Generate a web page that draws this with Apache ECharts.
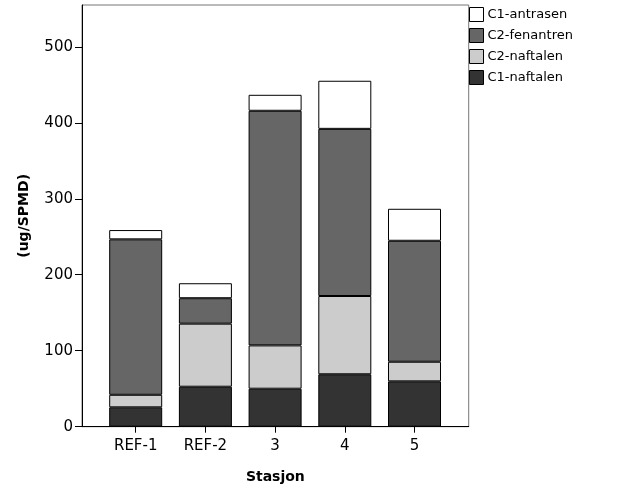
<!DOCTYPE html>
<html>
<head>
<meta charset="utf-8">
<script src="https://cdn.jsdelivr.net/npm/echarts@6/dist/echarts.min.js"></script>
<style>html,body{margin:0;padding:0;background:#fff;}#c{width:626px;height:501px;}</style>
</head>
<body>
<div id="c"></div>
<script>
const categories = ['REF-1', 'REF-2', '3', '4', '5'];
const c1Naftalen = [25.5, 52.6, 50, 69, 59.7];
const c2Naftalen = [16.5, 83, 57, 103, 25.8];
const c2Fenantren = [204.6, 33.5, 308.8, 220, 159.2];
const c1Antrasen = [12.2, 19.7, 21, 63.3, 42.1];
const yTicks = [0, 100, 200, 300, 400, 500];
const legendOrder = ['C1-antrasen', 'C2-fenantren', 'C2-naftalen', 'C1-naftalen'];

const font = 'DejaVu Sans';
const yMax = 555;
const chart = echarts.init(document.getElementById('c'), null, {renderer: 'canvas'});

function bar(name, data, color) {
  return {
    name: name, type: 'bar', stack: 'total', data: data,
    xAxisIndex: 0, yAxisIndex: 0,
    barWidth: 53,
    itemStyle: {color: color, borderColor: '#000', borderWidth: 1},
    emphasis: {disabled: true}
  };
}

chart.setOption({
  animation: false,
  backgroundColor: '#fff',
  grid: [
    {left: 100.85, width: 348.5, top: 5, bottom: 74.3},
    {left: 82, width: 386.7, top: 5, bottom: 74.3, show: true, borderColor: '#777', borderWidth: 1, backgroundColor: 'transparent'}
  ],
  xAxis: [
    {type: 'category', gridIndex: 0, data: categories, boundaryGap: true,
     axisLine: {show: false},
     axisTick: {show: true, alignWithLabel: true, length: 6, lineStyle: {color: '#000'}},
     axisLabel: {fontFamily: font, fontSize: 15, color: '#000', margin: 12}},
    {type: 'value', gridIndex: 1, min: 0, max: 1,
     axisLine: {show: true, onZero: false, lineStyle: {color: '#000', width: 1}},
     axisTick: {show: false}, axisLabel: {show: false}, splitLine: {show: false},
     name: 'Stasjon', nameLocation: 'middle', nameGap: 44,
     nameTextStyle: {fontFamily: font, fontSize: 14, fontWeight: 'bold', color: '#000'}}
  ],
  yAxis: [
    {type: 'value', gridIndex: 0, min: 0, max: yMax, show: false, splitLine: {show: false}},
    {type: 'value', gridIndex: 1, min: 0, max: yMax,
     axisLine: {show: true, lineStyle: {color: '#000', width: 1}},
     axisTick: {show: true, length: 7, lineStyle: {color: '#000'}, customValues: yTicks},
     axisLabel: {fontFamily: font, fontSize: 15, color: '#000', margin: 9, customValues: yTicks},
     splitLine: {show: false},
     name: '(ug/SPMD)', nameLocation: 'middle', nameGap: 51, nameRotate: 90,
     nameTextStyle: {fontFamily: font, fontSize: 14, fontWeight: 'bold', color: '#000'}}
  ],
  legend: {
    data: legendOrder, orient: 'vertical', left: 469, top: 7,
    itemWidth: 14, itemHeight: 14, itemGap: 6, icon: 'rect',
    itemStyle: {borderColor: '#000', borderWidth: 1},
    textStyle: {fontFamily: font, fontSize: 13, color: '#000', padding: [0, 0, 0, -1]},
    padding: 0, selectedMode: false
  },
  series: [
    bar('C1-naftalen', c1Naftalen, '#333333'),
    bar('C2-naftalen', c2Naftalen, '#cccccc'),
    bar('C2-fenantren', c2Fenantren, '#666666'),
    bar('C1-antrasen', c1Antrasen, '#ffffff')
  ]
});
</script>
</body>
</html>
